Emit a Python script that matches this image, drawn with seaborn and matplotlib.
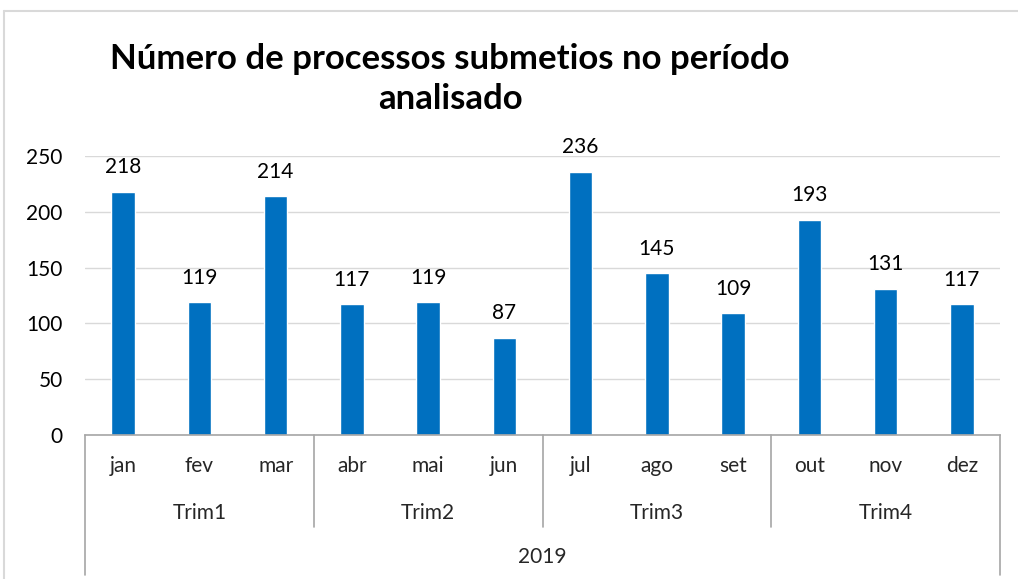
import numpy as np
import pandas as pd
import matplotlib
matplotlib.use("Agg")
import matplotlib.pyplot as plt
import seaborn as sns
from matplotlib.lines import Line2D

# dados do gráfico
meses = ["jan", "fev", "mar", "abr", "mai", "jun", "jul", "ago", "set", "out", "nov", "dez"]
processos = [218, 119, 214, 117, 119, 87, 236, 145, 109, 193, 131, 117]
trimestres = ["Trim1", "Trim2", "Trim3", "Trim4"]
ano = "2019"
titulo = "Número de processos submetios no período\nanalisado"

sns.set_theme(style="white")
plt.rcParams['font.family'] = ['Lato', 'DejaVu Sans']

W, H = 1018, 579
fig = plt.figure(figsize=(W / 100, H / 100), dpi=100)

# posição da área de plotagem em pixels
x0, x1, y_top, y_bot = 85, 1000, 156, 435
ax = fig.add_axes([x0 / W, (H - y_bot) / H, (x1 - x0) / W, (y_bot - y_top) / H])

df = pd.DataFrame({"mes": meses, "n": processos})
sns.barplot(data=df, x="mes", y="n", color="#0070C0", width=0.31, saturation=1, ax=ax)

ax.set_ylim(0, 250)
ax.set_xlim(-0.5, len(meses) - 0.5)
ax.set_yticks(range(0, 251, 50))
ax.yaxis.grid(True, color="#D9D9D9", linewidth=1)
ax.set_axisbelow(True)
for s in ["top", "right", "left"]:
    ax.spines[s].set_visible(False)
ax.spines["bottom"].set_color("#A6A6A6")
ax.spines["bottom"].set_linewidth(1.2)
ax.set_xlabel("")
ax.set_ylabel("")
ax.set_xticks([])
fs = 15
ax.tick_params(axis="y", length=0, labelsize=fs, pad=16, colors="#000000")

# rótulos de dados
for i, v in enumerate(processos):
    ax.text(i, v + 13, str(v), ha="center", va="bottom", fontsize=fs, color="#000000")

# eixo de categorias em vários níveis
trans = ax.get_xaxis_transform()
alt = y_bot - y_top
for i, m in enumerate(meses):
    ax.text(i, -31 / alt, m, transform=trans, ha="center", va="center", fontsize=fs)
for j, t in enumerate(trimestres):
    ax.text(j * 3 + 1, -78 / alt, t, transform=trans, ha="center", va="center", fontsize=fs)
ax.text((len(meses) - 1) / 2, -122 / alt, ano, transform=trans, ha="center", va="center", fontsize=fs)

for k, b in enumerate(np.arange(-0.5, len(meses), 3)):
    fim = -140 / alt if k in (0, 4) else -92 / alt
    ax.add_line(Line2D([b, b], [0, fim], transform=trans, color="#A6A6A6",
                       linewidth=1.2, clip_on=False))

# borda do gráfico
fig.add_artist(Line2D([4 / W, 4 / W], [0, (H - 11) / H], transform=fig.transFigure,
                      color="#D9D9D9", linewidth=1.5))
fig.add_artist(Line2D([4 / W, 1], [(H - 11) / H, (H - 11) / H], transform=fig.transFigure,
                      color="#D9D9D9", linewidth=1.5))

fig.text(450 / W, (H - 79) / H, titulo, ha="center", va="center", fontsize=25,
         fontweight="bold", linespacing=1.27, color="#000000")

fig.savefig("out.png", dpi=100)
